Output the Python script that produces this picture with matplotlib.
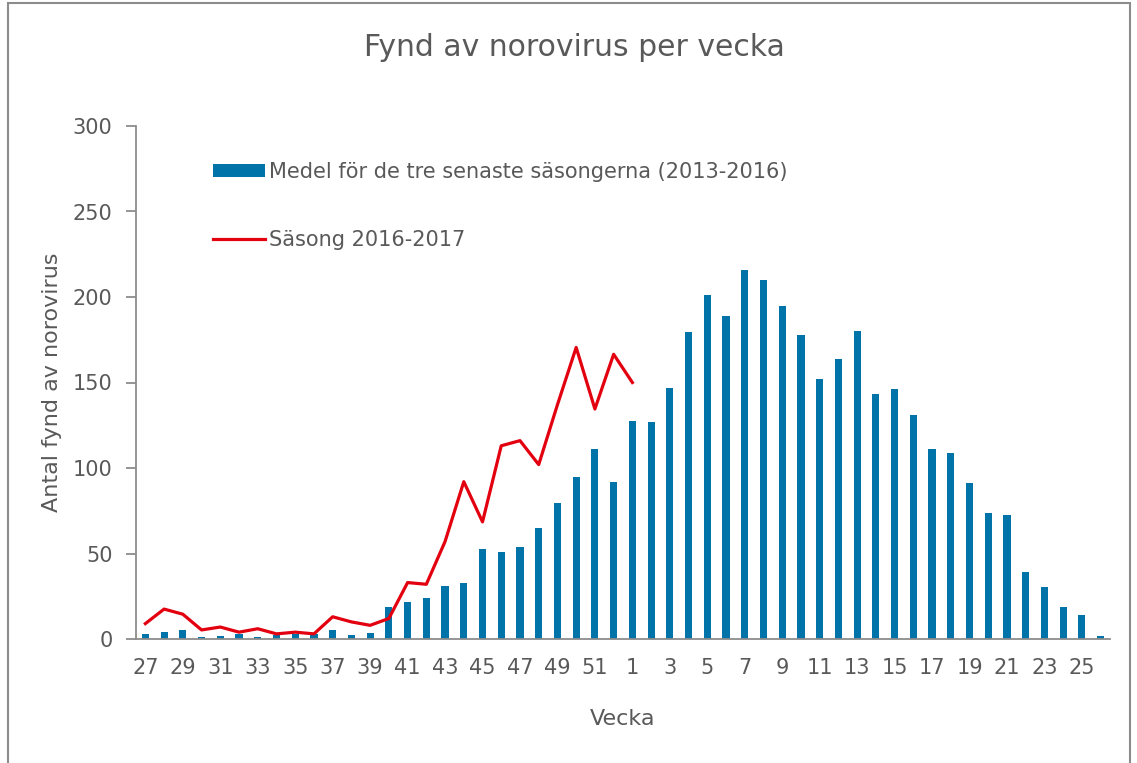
import matplotlib
matplotlib.use("Agg")
import matplotlib.pyplot as plt
import numpy as np

# veckor 27-52 och 1-26
weeks = list(range(27, 53)) + list(range(1, 27))

medel = [3, 4, 5.4, 1, 1.5, 3, 1, 2.5, 3, 3,
         5, 2.5, 3.8, 18.5, 21.5, 24, 31, 32.5, 52.5, 51,
         54, 65, 79.5, 94.5, 111, 92,
         127.5, 127, 147, 179.5, 201, 189, 215.5, 210, 195, 178,
         152, 163.5, 180, 143.5, 146, 131, 111, 109, 91, 73.5,
         72.5, 39, 30.5, 19, 14, 1.5]

sasong = [9, 17.5, 14.5, 5.3, 7, 4, 6, 3, 4, 3,
          13, 10, 8, 12, 33, 32, 57, 92, 68.5, 113,
          116, 102, 137, 170.5, 134.5, 166.5,
          150]

blue = '#0073A8'
red = '#E3000F'
grey_txt = '#595959'
grey_line = '#8C8C8C'

x = np.arange(len(weeks))
line_vals = np.full(len(weeks), np.nan)
line_vals[:len(sasong)] = sasong

fig = plt.figure(figsize=(11.37, 7.63), dpi=100)
ax = fig.add_axes([136/1137, 1 - 639/763, (1110 - 136)/1137, (639 - 126)/763])

bars = ax.bar(x, medel, width=0.38, color=blue,
              label='Medel för de tre senaste säsongerna (2013-2016)', zorder=2)
line, = ax.plot(x, line_vals, color=red, linewidth=2.3, label='Säsong 2016-2017', zorder=3)

ax.set_xlim(-0.5, len(weeks) - 0.5)
ax.set_ylim(0, 300)
ax.set_yticks(range(0, 301, 50))
ax.set_xticks(x[::2])
ax.set_xticklabels([str(w) for w in weeks[::2]])

for s in ['top', 'right']:
    ax.spines[s].set_visible(False)
for s in ['left', 'bottom']:
    ax.spines[s].set_color(grey_line)
    ax.spines[s].set_linewidth(1.3)

ax.tick_params(axis='y', length=7, width=1.3, color=grey_line, labelsize=15,
               labelcolor=grey_txt, pad=10)
ax.tick_params(axis='x', length=0, labelsize=15, labelcolor=grey_txt, pad=14)

ax.set_xlabel('Vecka', fontsize=16, color=grey_txt, labelpad=22)
ax.set_ylabel('Antal fynd av norovirus', fontsize=16, color=grey_txt, labelpad=8)
fig.text(574/1137, 1 - 48/763, 'Fynd av norovirus per vecka', fontsize=21.5,
         color=grey_txt, ha='center', va='center')

leg = ax.legend(handles=[bars, line], loc='upper left', bbox_to_anchor=(0.06, 0.966),
                frameon=False, fontsize=15, handlelength=2.5, handleheight=0.6,
                handletextpad=0.2, labelspacing=2.3)
for t in leg.get_texts():
    t.set_color(grey_txt)

# ram runt diagrammet
fig.add_artist(plt.Rectangle((8/1137, -0.1), 1122/1137, 1.1 - 3/763,
                             transform=fig.transFigure, fill=False,
                             edgecolor='#8C8C8C', linewidth=1.5))

fig.savefig('out.png', dpi=100)
